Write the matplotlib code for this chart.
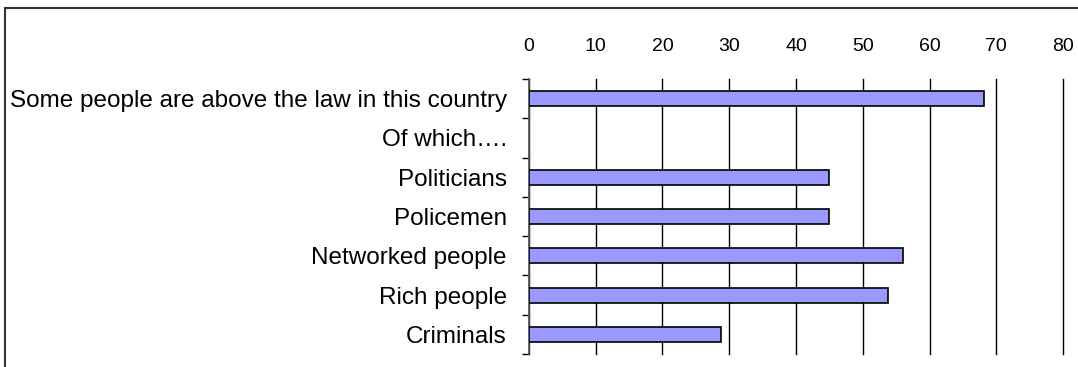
import matplotlib.pyplot as plt
from matplotlib.patches import Rectangle

# data
categories = ['Some people are above the law in this country', 'Of which\u2026.',
              'Politicians', 'Policemen', 'Networked people', 'Rich people', 'Criminals']
values = [68.2, 0, 45, 45, 56.1, 53.8, 28.8]
x_ticks = [0, 10, 20, 30, 40, 50, 60, 70, 80]

plt.rcParams['font.family'] = ['Liberation Sans', 'DejaVu Sans']

fig = plt.figure(figsize=(10.78, 3.67), dpi=100)
ax = fig.add_axes([0.4907, 0.0354, 0.4954, 0.7493])

pos = list(range(len(categories)))
bars = [v if v > 0 else float('nan') for v in values]
ax.barh(pos, bars, height=0.38, color='#9999FF', edgecolor='black', linewidth=1.2, zorder=3)

ax.set_xlim(0, 80)
ax.set_ylim(len(categories) - 0.5, -0.5)
ax.set_xticks(x_ticks)
ax.xaxis.tick_top()
ax.tick_params(axis='x', length=0, pad=17, labelsize=14)
ax.grid(axis='x', color='black', linewidth=1, zorder=0)
for gl in ax.get_xgridlines():
    gl.set_clip_on(False)

ax.set_yticks(pos)
ax.set_yticklabels(categories)
ax.set_yticks([p - 0.5 for p in range(len(categories) + 1)], minor=True)
ax.tick_params(axis='y', which='major', length=0, pad=16, labelsize=17.5)
ax.tick_params(axis='y', which='minor', length=5, width=1, color='black')

for side in ['top', 'right', 'bottom']:
    ax.spines[side].set_visible(False)
ax.spines['left'].set_color('#555555')
ax.spines['left'].set_linewidth(1.2)

# outer chart border, cut off at right and bottom
fig.patches.append(Rectangle((5 / 1078, -0.1), 1.2, 1 - 8 / 367 + 0.1,
                             transform=fig.transFigure, fill=False,
                             edgecolor='#333333', linewidth=1.5))

fig.savefig('out.png', dpi=100)
